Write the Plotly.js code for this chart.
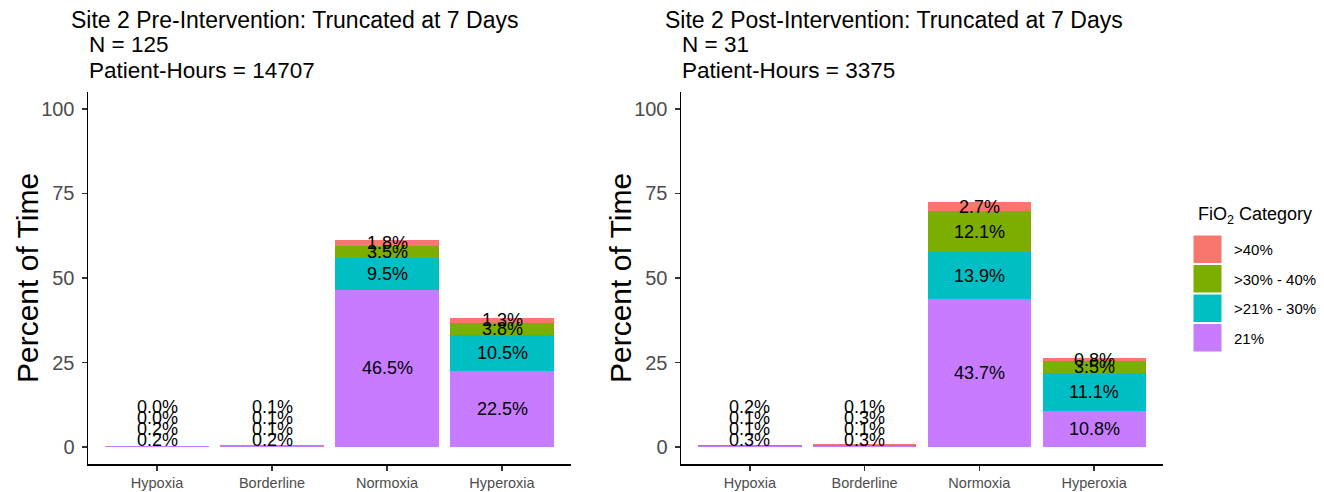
<!DOCTYPE html>
<html>
<head>
<meta charset="utf-8">
<script src="https://cdn.plot.ly/plotly-3.0.1.min.js"></script>
<style>html,body{margin:0;padding:0;background:#fff;}#chart{width:1324px;height:492px;}</style>
</head>
<body>
<div id="chart"></div>
<script>
// ---- data ----
const categories = ['Hypoxia', 'Borderline', 'Normoxia', 'Hyperoxia'];
const fio2Levels = ['21%', '>21% - 30%', '>30% - 40%', '>40%'];   // bottom to top
const fio2Colors = ['#C77CFF', '#00BFC4', '#7CAE00', '#F8766D'];

const pre21     = [0.2, 0.2, 46.5, 22.5];
const pre21to30 = [0.2, 0.1, 9.5, 10.5];
const pre30to40 = [0.0, 0.1, 3.5, 3.8];
const pre40     = [0.0, 0.1, 1.8, 1.3];

const post21     = [0.3, 0.3, 43.7, 10.8];
const post21to30 = [0.1, 0.1, 13.9, 11.1];
const post30to40 = [0.1, 0.3, 12.1, 3.5];
const post40     = [0.2, 0.1, 2.7, 0.8];

const preTitle  = ['Site 2 Pre-Intervention: Truncated at 7 Days', 'N = 125', 'Patient-Hours = 14707'];
const postTitle = ['Site 2 Post-Intervention: Truncated at 7 Days', 'N = 31', 'Patient-Hours = 3375'];
const yTickVals = [0, 25, 50, 75, 100];
const legendTitle = 'FiO<sub>2</sub> Category';

// ---- build ----
const W = 1324, H = 492;
const px = x => x / W;
const py = y => 1 - y / H;

const panels = [
  {series: [pre21, pre21to30, pre30to40, pre40], xa: 'x', ya: 'y', title: preTitle, tx: 69, nx: 87, yt: 27},
  {series: [post21, post21to30, post30to40, post40], xa: 'x2', ya: 'y2', title: postTitle, tx: 663, nx: 680, yt: 620}
];

const traces = [];
const annotations = [];
const textFont = {family: 'Liberation Sans, Arial, sans-serif', color: '#000'};

panels.forEach((p, pi) => {
  p.series.forEach((vals, li) => {
    traces.push({
      type: 'bar', x: categories, y: vals, name: fio2Levels[li],
      xaxis: p.xa, yaxis: p.ya,
      marker: {color: fio2Colors[li], line: {width: 0}},
      width: 0.9, showlegend: false, hoverinfo: 'skip'
    });
  });
  // labels
  categories.forEach((c, ci) => {
    let cum = 0;
    const total = p.series.reduce((s, v) => s + v[ci], 0);
    p.series.forEach((vals, li) => {
      const v = vals[ci];
      const small = total < 5;
      annotations.push({
        xref: p.xa, yref: p.ya, x: c,
        y: small ? 0 : cum + v / 2,
        yshift: small ? 7.5 + 11 * li : 0,
        text: v.toFixed(1) + '%', showarrow: false,
        xanchor: 'center', yanchor: 'middle',
        font: Object.assign({size: 18}, textFont)
      });
      cum += v;
    });
  });
  // titles
  annotations.push({xref: 'paper', yref: 'paper', x: px(p.tx), y: py(20), xanchor: 'left', yanchor: 'middle',
    text: p.title[0], showarrow: false, font: Object.assign({size: 23}, textFont)});
  annotations.push({xref: 'paper', yref: 'paper', x: px(p.nx), y: py(45), xanchor: 'left', yanchor: 'middle',
    text: p.title[1], showarrow: false, font: Object.assign({size: 22.5}, textFont)});
  annotations.push({xref: 'paper', yref: 'paper', x: px(p.nx), y: py(70), xanchor: 'left', yanchor: 'middle',
    text: p.title[2], showarrow: false, font: Object.assign({size: 22.5}, textFont)});
  // y axis title
  annotations.push({xref: 'paper', yref: 'paper', x: px(p.yt), y: py(278), xanchor: 'center', yanchor: 'middle',
    text: 'Percent of Time', textangle: -90, showarrow: false, font: Object.assign({size: 30}, textFont)});
});

// legend (drawn manually, ggplot style)
const shapes = [];
annotations.push({xref: 'paper', yref: 'paper', x: px(1196), y: py(215), xanchor: 'left', yanchor: 'middle',
  text: legendTitle, showarrow: false, font: Object.assign({size: 18}, textFont)});
const legendOrder = [3, 2, 1, 0];
legendOrder.forEach((li, k) => {
  const top = 235 + k * 29.5;
  shapes.push({type: 'rect', xref: 'paper', yref: 'paper',
    x0: px(1193), x1: px(1222), y0: py(top), y1: py(top + 28.5),
    fillcolor: fio2Colors[li], line: {color: '#fff', width: 1}});
  annotations.push({xref: 'paper', yref: 'paper', x: px(1232), y: py(top + 14.5), xanchor: 'left', yanchor: 'middle',
    text: fio2Levels[li], showarrow: false, font: Object.assign({size: 15}, textFont)});
});

const xAxisBase = {
  type: 'category', range: [-0.6, 3.6], showline: true, linecolor: '#000', linewidth: 1.5,
  ticks: 'outside', ticklen: 5, tickcolor: '#333', tickwidth: 1.3, showgrid: false, zeroline: false,
  tickfont: {family: 'Liberation Sans, Arial, sans-serif', size: 14.5, color: '#4D4D4D'},
  fixedrange: true
};
const yAxisBase = {
  range: [-5, 105], showline: true, linecolor: '#000', linewidth: 1.5,
  ticks: 'outside', ticklen: 5, tickcolor: '#333', tickwidth: 1.3, showgrid: false, zeroline: false,
  tickvals: yTickVals, ticktext: yTickVals.map(String), ticklabelstandoff: 3,
  tickfont: {family: 'Liberation Sans, Arial, sans-serif', size: 20, color: '#4D4D4D'},
  domain: [py(464), py(92)], fixedrange: true
};

const layout = {
  width: W, height: H, margin: {l: 0, r: 0, t: 0, b: 0},
  paper_bgcolor: '#fff', plot_bgcolor: '#fff',
  barmode: 'stack', showlegend: false,
  xaxis: Object.assign({}, xAxisBase, {domain: [px(88), px(571)], anchor: 'y'}),
  yaxis: Object.assign({}, yAxisBase, {anchor: 'x'}),
  xaxis2: Object.assign({}, xAxisBase, {domain: [px(681), px(1163)], anchor: 'y2'}),
  yaxis2: Object.assign({}, yAxisBase, {anchor: 'x2'}),
  annotations: annotations, shapes: shapes
};

Plotly.newPlot('chart', traces, layout, {staticPlot: true, displayModeBar: false});
</script>
</body>
</html>
